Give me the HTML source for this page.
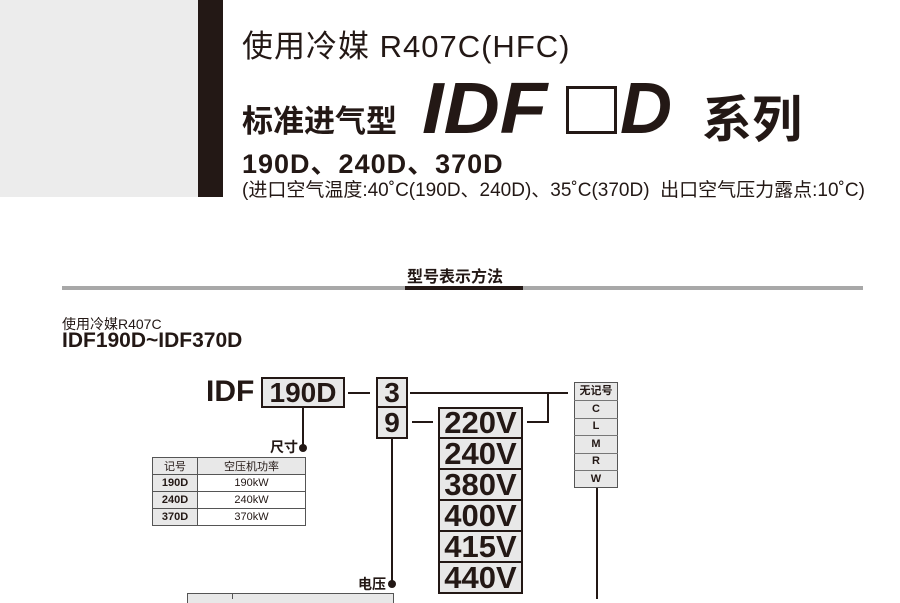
<!DOCTYPE html>
<html><head><meta charset="utf-8"><style>
body{margin:0;width:900px;height:599px;overflow:hidden;background:#fff;position:relative;font-family:"Liberation Sans","Noto Sans CJK SC",sans-serif;color:#231815}
.a{position:absolute;white-space:nowrap}
.b{position:absolute;box-sizing:border-box}
.box{position:absolute;box-sizing:border-box;border:2px solid #231815;background:#e8e8e8;font-weight:bold;text-align:center}
.ln{position:absolute;background:#231815}
table{border-collapse:collapse;position:absolute;font-size:11px}
td{border:1px solid #555;text-align:center;padding:0;height:16px}
</style></head><body>
<div class="b" style="left:0;top:0;width:198px;height:197px;background:#ececec"></div>
<div class="b" style="left:198px;top:0;width:25px;height:197px;background:#231815"></div>
<div class="a" style="left:242px;top:21px;font-size:31px;letter-spacing:1px">使用冷媒 R407C(HFC)</div>
<div class="a" style="left:242px;top:96px;font-size:31px;font-weight:bold">标准进气型</div>
<div class="a" style="left:422px;top:68px;font-size:72px;font-weight:bold;font-style:italic;transform:scaleX(1.08);transform-origin:0 0">IDF</div>
<div class="b" style="left:566px;top:86px;width:51px;height:48px;border:3px solid #231815"></div>
<div class="a" style="left:620px;top:68px;font-size:72px;font-weight:bold;font-style:italic">D</div>
<div class="a" style="left:702px;top:80px;font-size:50px;font-weight:bold">系列</div>
<div class="a" style="left:242px;top:142px;font-size:27px;font-weight:bold;letter-spacing:1px">190D、240D、370D</div>
<div class="a" style="left:242px;top:175px;font-size:19px">(进口空气温度:40˚C(190D、240D)、35˚C(370D)&nbsp; 出口空气压力露点:10˚C)</div>

<div class="a" style="left:407px;top:263px;font-size:16px;font-weight:bold">型号表示方法</div>
<div class="b" style="left:62px;top:286px;width:801px;height:4px;background:#a8a8a8"></div>
<div class="b" style="left:405px;top:286px;width:118px;height:4px;background:#231815"></div>
<div class="a" style="left:62px;top:314px;font-size:14px">使用冷媒R407C</div>
<div class="a" style="left:62px;top:329px;font-size:21px;font-weight:bold">IDF190D~IDF370D</div>

<div class="a" style="left:206px;top:375px;font-size:30px;font-weight:bold">IDF</div>
<div class="box" style="left:261px;top:377px;width:84px;height:31px;font-size:28px;line-height:27px">190D</div>
<div class="ln" style="left:348px;top:392px;width:22px;height:2px"></div>
<div class="box" style="left:376px;top:377px;width:32px;height:31px;font-size:28px;line-height:27px">3</div>
<div class="box" style="left:376px;top:406px;width:32px;height:33px;font-size:28px;line-height:29px">9</div>
<div class="ln" style="left:410px;top:392px;width:158px;height:2px"></div>
<div class="ln" style="left:412px;top:421px;width:21px;height:2px"></div>
<div class="ln" style="left:527px;top:421px;width:22px;height:2px"></div>
<div class="ln" style="left:547px;top:392px;width:2px;height:31px"></div>

<div class="box" style="left:438px;top:407px;width:85px;height:32px;font-size:31px;line-height:28px">220V</div>
<div class="box" style="left:438px;top:437px;width:85px;height:33px;font-size:31px;line-height:29px">240V</div>
<div class="box" style="left:438px;top:468px;width:85px;height:33px;font-size:31px;line-height:29px">380V</div>
<div class="box" style="left:438px;top:499px;width:85px;height:33px;font-size:31px;line-height:29px">400V</div>
<div class="box" style="left:438px;top:530px;width:85px;height:33px;font-size:31px;line-height:29px">415V</div>
<div class="box" style="left:438px;top:561px;width:85px;height:33px;font-size:31px;line-height:29px">440V</div>

<div class="b" style="left:574px;top:382px;width:44px;height:106px;border:1px solid #555;background:#e8e8e8"></div>
<div class="a" style="left:574px;top:383px;width:44px;text-align:center;font-size:11px;font-weight:bold;line-height:17.6px">无记号<br>C<br>L<br>M<br>R<br>W</div>
<div class="ln" style="left:574px;top:400px;width:44px;height:1px;background:#777"></div>
<div class="ln" style="left:574px;top:418px;width:44px;height:1px;background:#777"></div>
<div class="ln" style="left:574px;top:435px;width:44px;height:1px;background:#777"></div>
<div class="ln" style="left:574px;top:453px;width:44px;height:1px;background:#777"></div>
<div class="ln" style="left:574px;top:470px;width:44px;height:1px;background:#777"></div>
<div class="ln" style="left:596px;top:488px;width:2px;height:111px"></div>

<div class="ln" style="left:302px;top:407px;width:2px;height:41px"></div>
<div class="b" style="left:299px;top:444px;width:8px;height:8px;border-radius:50%;background:#231815"></div>
<div class="a" style="left:270px;top:437px;font-size:14px;font-weight:bold">尺寸</div>
<table style="left:152px;top:457px;width:154px">
<tr style="background:#e8e8e8"><td style="width:44px">记号</td><td>空压机功率</td></tr>
<tr><td style="background:#e8e8e8;font-weight:bold">190D</td><td>190kW</td></tr>
<tr><td style="background:#e8e8e8;font-weight:bold">240D</td><td>240kW</td></tr>
<tr><td style="background:#e8e8e8;font-weight:bold">370D</td><td>370kW</td></tr>
</table>

<div class="ln" style="left:391px;top:439px;width:2px;height:145px"></div>
<div class="b" style="left:388px;top:580px;width:8px;height:8px;border-radius:50%;background:#231815"></div>
<div class="a" style="left:358px;top:574px;font-size:14px;font-weight:bold">电压</div>
<div class="b" style="left:187px;top:593px;width:207px;height:10px;border:1px solid #555;border-bottom:none;background:#e8e8e8"></div>
<div class="ln" style="left:232px;top:593px;width:1px;height:6px;background:#555"></div>
</body></html>
